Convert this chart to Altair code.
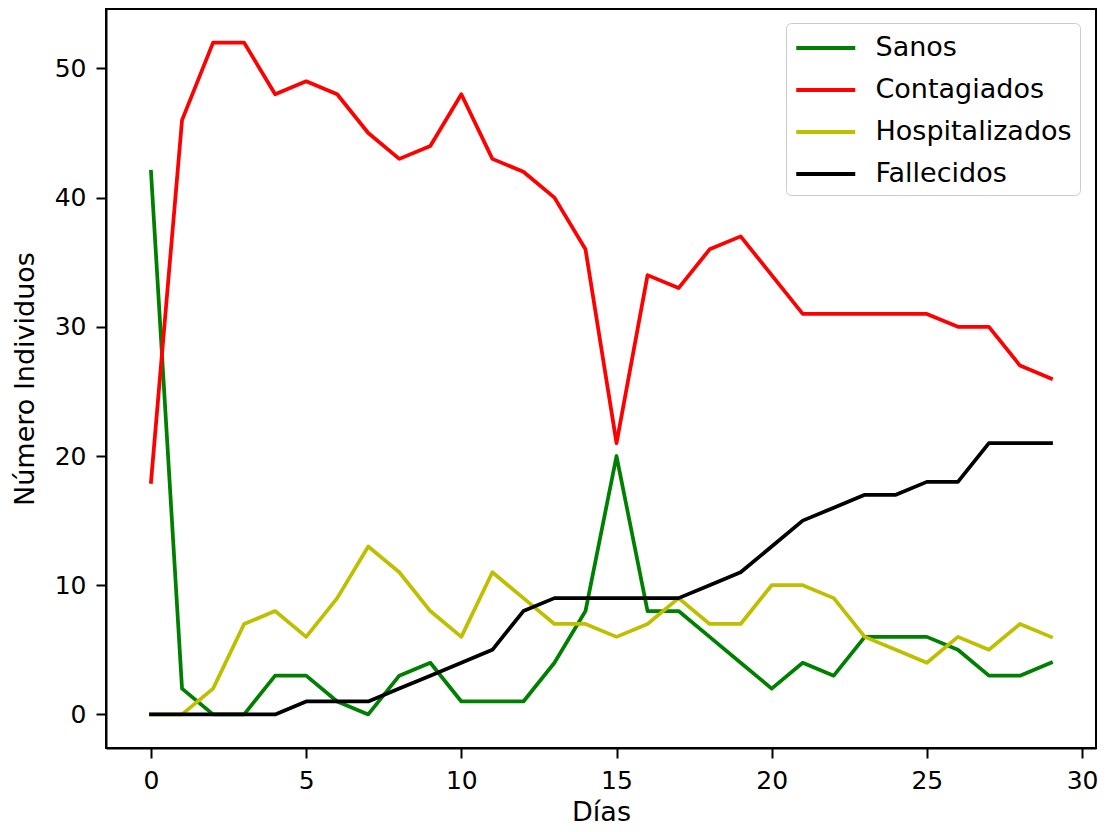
import altair as alt
import pandas as pd

dias = list(range(30))
sanos = [42, 2, 0, 0, 3, 3, 1, 0, 3, 4, 1, 1, 1, 4, 8, 20, 8, 8, 6, 4, 2, 4, 3, 6, 6, 6, 5, 3, 3, 4]
contagiados = [18, 46, 52, 52, 48, 49, 48, 45, 43, 44, 48, 43, 42, 40, 36, 21, 34, 33, 36, 37, 34, 31, 31, 31, 31, 31, 30, 30, 27, 26]
hospitalizados = [0, 0, 2, 7, 8, 6, 9, 13, 11, 8, 6, 11, 9, 7, 7, 6, 7, 9, 7, 7, 10, 10, 9, 6, 5, 4, 6, 5, 7, 6]
fallecidos = [0, 0, 0, 0, 0, 1, 1, 1, 2, 3, 4, 5, 8, 9, 9, 9, 9, 9, 10, 11, 13, 15, 16, 17, 17, 18, 18, 21, 21, 21]

series_names = ["Sanos", "Contagiados", "Hospitalizados", "Fallecidos"]
series_colors = ["#008000", "#ff0000", "#bfbf00", "#000000"]
x_ticks = [0, 5, 10, 15, 20, 25, 30]
y_ticks = [0, 10, 20, 30, 40, 50]

rows = []
for name, vals in zip(series_names, [sanos, contagiados, hospitalizados, fallecidos]):
    for d, v in zip(dias, vals):
        rows.append({"Días": d, "valor": v, "serie": name})
df = pd.DataFrame(rows)

FONT = "DejaVu Sans"
FS = 25
TFS = 27
LFS = 27

layers = []
for name in series_names:
    layers.append(
        alt.Chart(df).transform_filter(alt.datum.serie == name).mark_line(
            strokeWidth=3.75, strokeJoin="round", strokeCap="square"
        ).encode(
            x=alt.X("Días:Q", scale=alt.Scale(domain=[-1.45, 30.45], nice=False, zero=False),
                    axis=alt.Axis(values=x_ticks, title="Días", format="d")),
            y=alt.Y("valor:Q", scale=alt.Scale(domain=[-2.6, 54.6], nice=False, zero=False),
                    axis=alt.Axis(values=y_ticks, title="Número Individuos", format="d")),
            color=alt.Color("serie:N", scale=alt.Scale(domain=series_names, range=series_colors),
                            legend=alt.Legend(title=None, orient="none", legendX=680, legendY=14,
                                              symbolType="M-1,0H3", symbolSize=870,
                                              symbolStrokeWidth=4, labelOffset=47.5,
                                              rowPadding=12, padding=8, labelLimit=0,
                                              strokeColor="#cccccc", fillColor="rgba(255,255,255,0.8)",
                                              cornerRadius=5, labelFont=FONT, labelFontSize=LFS,
                                              labelColor="#000000")),
        )
    )

chart = alt.layer(*layers).properties(
    width=990, height=739,
    autosize=alt.AutoSizeParams(type="none"),
    padding={"left": 98, "top": 1, "right": 2, "bottom": 80},
).configure_view(
    stroke="#000000", strokeWidth=2
).configure_axis(
    grid=False,
    domainColor="#000000", domainWidth=2,
    tickColor="#000000", tickWidth=2, tickSize=10,
    labelFont=FONT, labelFontSize=FS, labelColor="#000000", labelPadding=10,
    titleFont=FONT, titleFontSize=TFS, titleFontWeight="normal", titleColor="#000000",
).configure_axisX(
    titlePadding=6
).configure_axisY(
    titlePadding=15
)

chart.save("out.html", embed_options={"renderer": "svg", "actions": False})
